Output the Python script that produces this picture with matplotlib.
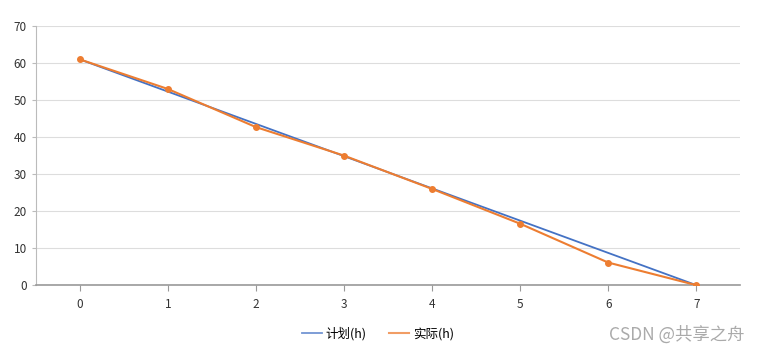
import matplotlib
matplotlib.use("Agg")
import matplotlib.pyplot as plt

plt.rcParams['font.family'] = ['Noto Sans CJK SC', 'DejaVu Sans']

# 燃尽图数据
days = [0, 1, 2, 3, 4, 5, 6, 7]
plan = [61, 52.29, 43.57, 34.86, 26.14, 17.43, 8.71, 0]
actual = [61, 53, 42.7, 35, 26, 16.6, 6.1, 0]
yticks = [0, 10, 20, 30, 40, 50, 60, 70]

fig = plt.figure(figsize=(7.6, 3.52), dpi=100)
ax = fig.add_axes([0.047, 0.19, 0.927, 0.736])

ax.plot(days, plan, color='#4472C4', lw=1.3, label='计划(h)', zorder=3)
ax.plot(days, actual, color='#ED7D31', lw=1.5, marker='o', ms=4,
        label='实际(h)', zorder=4)

ax.set_xlim(-0.5, 7.5)
ax.set_ylim(0, 70)
ax.set_xticks(days)
ax.set_yticks(yticks)
ax.tick_params(labelsize=8.5, colors='#333333', length=4, width=0.8)
ax.tick_params(axis='x', pad=5, color='#999999')
ax.tick_params(axis='y', length=3, color='#bbbbbb')
ax.grid(axis='y', color='#dddddd', lw=0.8)
ax.set_axisbelow(True)

for s in ['top', 'right']:
    ax.spines[s].set_visible(False)
ax.spines['left'].set_color('#bbbbbb')
ax.spines['bottom'].set_color('#999999')
ax.spines['bottom'].set_linewidth(1.2)

leg = fig.legend(loc='center', bbox_to_anchor=(0.497, 0.052), ncol=2,
                 frameon=False, fontsize=9, handlelength=1.6, columnspacing=1.8,
                 handletextpad=0.3)
for h in leg.legend_handles:
    h.set_marker('')
    h.set_alpha(0.75)

fig.text(0.98, 0.05, 'CSDN @共享之舟', ha='right', va='center',
         fontsize=12.5, color='#aaaaaa')

fig.savefig('out.png', dpi=100)
